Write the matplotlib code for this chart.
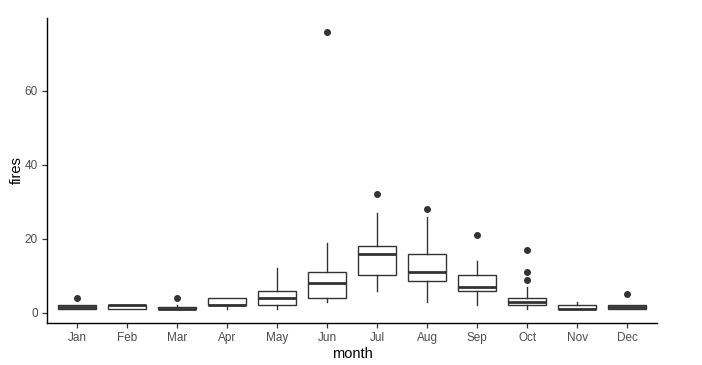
import matplotlib
matplotlib.use("Agg")
import matplotlib.pyplot as plt

plt.rcParams['font.family'] = ['Liberation Sans', 'DejaVu Sans']

# box statistics, one entry per month
months = ["Jan", "Feb", "Mar", "Apr", "May", "Jun", "Jul", "Aug", "Sep", "Oct", "Nov", "Dec"]
q1 = [1, 1, 1, 2, 2, 4, 10.25, 8.5, 6, 2, 1, 1]
med = [1.5, 2, 1, 2, 4, 8, 16, 11, 7, 3, 1, 1.5]
q3 = [2, 2, 1.5, 4, 6, 11, 18, 16, 10.25, 4, 2, 2]
whislo = [1, 1, 1, 1, 1, 3, 6, 3, 2, 1, 1, 1]
whishi = [2, 2, 2, 4, 12, 19, 27, 26, 14, 7, 3, 2]
fliers = [[4], [], [4], [], [], [76], [32], [28], [21], [9, 11, 17], [], [5]]

stats = []
for i, m in enumerate(months):
    stats.append(dict(label=m, q1=q1[i], med=med[i], q3=q3[i],
                      whislo=whislo[i], whishi=whishi[i], fliers=fliers[i]))

px = 1 / 100
fig = plt.figure(figsize=(702 * px, 365 * px), dpi=100)
ax = fig.add_axes([0.067, 0.115, 0.869, 0.836])

col = "#333333"
ax.bxp(stats, positions=range(1, 13), widths=0.75, patch_artist=True,
       boxprops=dict(facecolor="white", edgecolor=col, linewidth=1.0),
       medianprops=dict(color=col, linewidth=2.0),
       whiskerprops=dict(color=col, linewidth=1.0),
       capprops=dict(linewidth=0),
       flierprops=dict(marker="o", markerfacecolor=col, markeredgecolor=col, markersize=4))

ax.set_xlim(0.4, 12.6)
ax.set_ylim(-2.75, 79.75)
ax.set_yticks([0, 20, 40, 60])
ax.set_xticks(range(1, 13))
ax.set_xticklabels(months)

for s in ["top", "right"]:
    ax.spines[s].set_visible(False)
for s in ["left", "bottom"]:
    ax.spines[s].set_color("black")
    ax.spines[s].set_linewidth(1.0)
ax.tick_params(axis="both", length=3.5, width=0.9, color="#333333",
               labelcolor="#4D4D4D", labelsize=8.5, pad=3)

ax.set_xlabel("month", fontsize=10.5, color="black", labelpad=2)
ax.set_ylabel("fires", fontsize=10.5, color="black", labelpad=1)

fig.savefig("out.png", dpi=100)
